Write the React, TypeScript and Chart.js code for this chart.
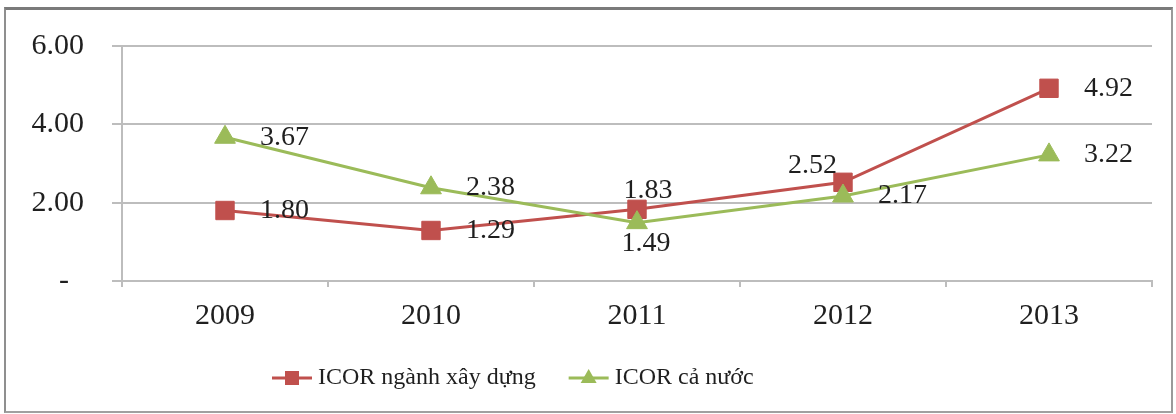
import React, { useEffect, useRef } from 'react';
import { Chart, registerables } from 'chart.js';

Chart.register(...registerables);

const years = ['2009', '2010', '2011', '2012', '2013'];
const constructionIcor = [1.8, 1.29, 1.83, 2.52, 4.92];
const nationalIcor = [3.67, 2.38, 1.49, 2.17, 3.22];
const seriesNames = ['ICOR ngành xây dựng', 'ICOR cả nước'];
const yTicks = [0, 2, 4, 6];

const SERIF = "'Liberation Serif', 'Times New Roman', Times, serif";
const RED = '#C0504D';
const GREEN = '#9BBB59';
const TEXT = '#1f1f1f';
const GRID = '#bdbdbd';

// where each value label sits relative to its marker, per series
const labelSpots = [
  ['right', 'right', 'above', 'aboveLeft', 'right'],
  ['right', 'right', 'below', 'right', 'right'],
];

const valueLabels = {
  id: 'valueLabels',
  afterDatasetsDraw(chart: any) {
    const ctx = chart.ctx;
    ctx.save();
    ctx.font = `28px ${SERIF}`;
    ctx.fillStyle = TEXT;
    ctx.textBaseline = 'middle';
    chart.data.datasets.forEach((ds: any, di: number) => {
      const meta = chart.getDatasetMeta(di);
      meta.data.forEach((pt: any, i: number) => {
        const text = Number(ds.data[i]).toFixed(2);
        const spot = labelSpots[di][i];
        let x = pt.x;
        let y = pt.y;
        if (spot === 'right') {
          ctx.textAlign = 'left';
          x += 35;
        } else if (spot === 'above') {
          ctx.textAlign = 'center';
          x += 11;
          y -= 19;
        } else if (spot === 'below') {
          ctx.textAlign = 'center';
          x += 9;
          y += 21;
        } else {
          ctx.textAlign = 'right';
          x -= 6;
          y -= 17;
        }
        ctx.fillText(text, x, y);
      });
    });
    ctx.restore();
  },
};

// legend with a short line segment and the series marker, as in office charts
const lineLegend = {
  id: 'lineLegend',
  afterDraw(chart: any) {
    const ctx = chart.ctx;
    const y = 378;
    let x = 272;
    ctx.save();
    ctx.font = `24px ${SERIF}`;
    ctx.textBaseline = 'middle';
    ctx.textAlign = 'left';
    chart.data.datasets.forEach((ds: any) => {
      const color = ds.borderColor;
      ctx.strokeStyle = color;
      ctx.lineWidth = 3;
      ctx.beginPath();
      ctx.moveTo(x, y);
      ctx.lineTo(x + 40, y);
      ctx.stroke();
      ctx.fillStyle = color;
      const cx = x + 20;
      if (ds.pointStyle === 'rect') {
        ctx.fillRect(cx - 7, y - 7, 14, 14);
      } else {
        ctx.beginPath();
        ctx.moveTo(cx, y - 9);
        ctx.lineTo(cx + 8, y + 5);
        ctx.lineTo(cx - 8, y + 5);
        ctx.closePath();
        ctx.fill();
      }
      ctx.fillStyle = TEXT;
      ctx.fillText(ds.label, x + 46, y);
      x += 46 + ctx.measureText(ds.label).width + 33;
    });
    ctx.restore();
  },
};

export default function App() {
  const canvasRef = useRef<HTMLCanvasElement | null>(null);

  useEffect(() => {
    const canvas = canvasRef.current;
    if (!canvas) return;
    const chart = new Chart(canvas, {
      type: 'line',
      data: {
        labels: years,
        datasets: [
          {
            label: seriesNames[0],
            data: constructionIcor,
            borderColor: RED,
            backgroundColor: RED,
            pointBackgroundColor: RED,
            pointBorderColor: RED,
            borderWidth: 3,
            pointStyle: 'rect',
            pointRadius: 13,
            pointBorderWidth: 1,
            tension: 0,
            order: 2,
          },
          {
            label: seriesNames[1],
            data: nationalIcor,
            borderColor: GREEN,
            backgroundColor: GREEN,
            pointBackgroundColor: GREEN,
            pointBorderColor: GREEN,
            borderWidth: 3,
            pointStyle: 'triangle',
            pointRadius: 12,
            pointBorderWidth: 1,
            tension: 0,
            order: 1,
          },
        ],
      },
      options: {
        animation: false,
        responsive: false,
        events: [],
        layout: { padding: { left: 0, top: 42, right: 24, bottom: 0 } },
        plugins: {
          legend: { display: false },
          tooltip: { enabled: false },
        },
        scales: {
          x: {
            offset: true,
            grid: {
              offset: true,
              drawOnChartArea: false,
              drawTicks: true,
              tickLength: 6,
              color: GRID,
              lineWidth: 2,
            },
            border: { color: GRID, width: 2 },
            ticks: {
              font: { family: SERIF, size: 30 },
              color: TEXT,
              padding: 11,
              maxRotation: 0,
            },
            afterFit: (s: any) => {
              s.height = 133;
            },
          },
          y: {
            min: 0,
            max: 6,
            afterBuildTicks: (s: any) => {
              s.ticks = yTicks.map((v) => ({ value: v }));
            },
            ticks: {
              callback: (v: any) => (Number(v) === 0 ? '-  ' : Number(v).toFixed(2)),
              font: { family: SERIF, size: 30 },
              color: TEXT,
              padding: 28,
            },
            grid: { color: GRID, lineWidth: 2, tickLength: 10 },
            border: { color: GRID, width: 2 },
            afterFit: (s: any) => {
              s.width = 122;
            },
          },
        },
      },
      plugins: [valueLabels, lineLegend],
    });
    return () => chart.destroy();
  }, []);

  return (
    <div style={{ position: 'fixed', left: 0, top: 0, width: 1176, height: 414, background: '#fff' }}>
      <div
        style={{
          position: 'absolute',
          left: 4,
          top: 7,
          width: 1169,
          height: 406,
          boxSizing: 'border-box',
          borderTop: '3px solid #7a7a7a',
          borderLeft: '2px solid #8f8f8f',
          borderRight: '2px solid #9a9a9a',
          borderBottom: '2px solid #a0a0a0',
        }}
      />
      <canvas
        ref={canvasRef}
        width={1176}
        height={414}
        style={{ position: 'absolute', left: 0, top: 0, width: 1176, height: 414 }}
      />
    </div>
  );
}
